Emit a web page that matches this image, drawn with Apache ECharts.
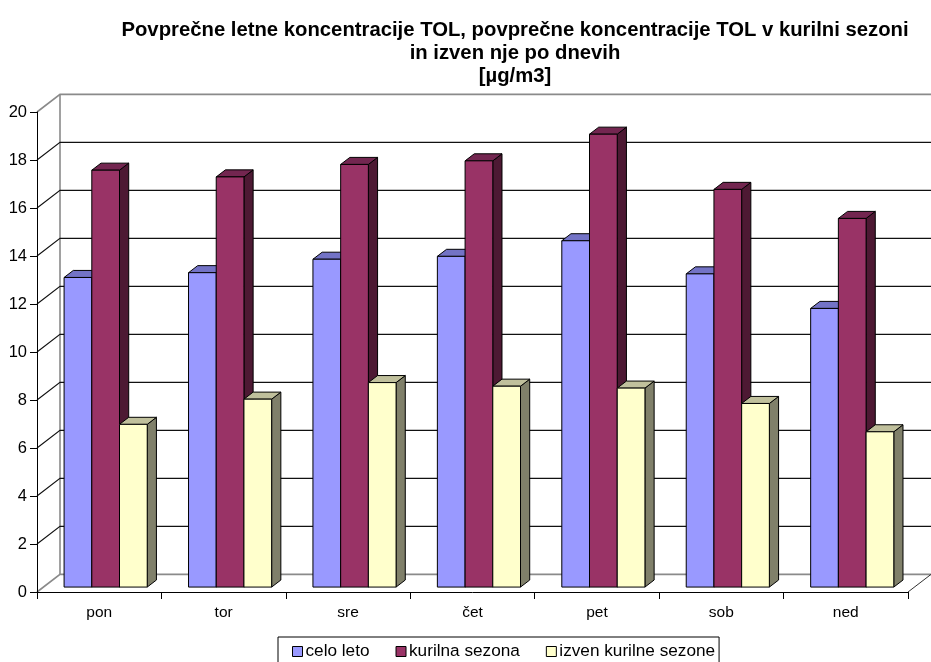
<!DOCTYPE html>
<html>
<head>
<meta charset="utf-8">
<script src="https://cdn.jsdelivr.net/npm/echarts@6/dist/echarts.min.js"></script>
<style>html,body{margin:0;padding:0;background:#fff}#c{width:931px;height:662px}</style>
</head>
<body>
<div id="c"></div>
<script>
const categories = ['pon', 'tor', 'sre', 'čet', 'pet', 'sob', 'ned'];
const celoLeto = [12.9, 13.1, 13.66, 13.78, 14.43, 13.05, 11.61];
const kurilnaSezona = [17.37, 17.09, 17.61, 17.76, 18.87, 16.57, 15.36];
const izvenKurilneSezone = [6.78, 7.83, 8.52, 8.37, 8.29, 7.65, 6.47];
const seriesNames = ['celo leto', 'kurilna sezona', 'izven kurilne sezone'];
const yTicks = [0, 2, 4, 6, 8, 10, 12, 14, 16, 18, 20];
const titleLines = ['Povprečne letne koncentracije TOL, povprečne koncentracije TOL v kurilni sezoni', 'in izven nje po dnevih', '[µg/m3]'];

const DX = 23, DY = -17.6;      // full depth vector
const FRONT = 0.28;             // bar front plane
const BDEPTH = 0.4;             // bar depth
const BAR_FRAC = 0.2227;        // bar width relative to category band

const palettes = [
  { front: '#9999FF', top: '#7373C6', side: '#5C5CA8' },
  { front: '#993366', top: '#732650', side: '#4D1933' },
  { front: '#FFFFCC', top: '#C0C09C', side: '#80806A' }
];

function barRenderer(si) {
  return function (params, api) {
    const c = api.value(0), v = api.value(1);
    const p0 = api.coord([c, 0]);
    const p1 = api.coord([c, v]);
    const bw = api.size([1, 0])[0] * BAR_FRAC;
    const ox = DX * FRONT, oy = DY * FRONT;
    const dx = DX * BDEPTH, dy = DY * BDEPTH;
    const x = p0[0] + ox + (si - 1.5) * bw;
    const yb = p0[1] + oy, yt = p1[1] + oy;
    const pal = palettes[si];
    const st = { stroke: '#000', lineWidth: 1, lineJoin: 'round' };
    return {
      type: 'group',
      children: [
        { type: 'polygon', shape: { points: [[x + bw, yt], [x + bw + dx, yt + dy], [x + bw + dx, yb + dy], [x + bw, yb]] },
          style: Object.assign({ fill: pal.side }, st) },
        { type: 'polygon', shape: { points: [[x, yt], [x + bw, yt], [x + bw + dx, yt + dy], [x + dx, yt + dy]] },
          style: Object.assign({ fill: pal.top }, st) },
        { type: 'rect', shape: { x: x, y: yt, width: bw, height: yb - yt },
          style: Object.assign({ fill: pal.front }, st) }
      ]
    };
  };
}

function wallRenderer(params, api) {
  const cs = params.coordSys;
  const v = api.value(1);
  const p = api.coord([0, v]);
  const y = p[1];
  const gx = cs.x, gr = cs.x + cs.width, gb = cs.y + cs.height, gt = cs.y;
  const children = [];
  const isEdge = (v === 0 || v === 20);
  const col = isEdge ? '#8a8a8a' : '#111';
  children.push({ type: 'polyline', shape: { points: [[gx, y], [gx + DX, y + DY], [gr + DX, y + DY]] },
    style: { stroke: col, lineWidth: isEdge ? 1.6 : 1.1, fill: null } });
  if (params.dataIndex === 0) {
    children.push({ type: 'line', shape: { x1: gx + DX, y1: gb + DY, x2: gx + DX, y2: gt + DY },
      style: { stroke: '#8a8a8a', lineWidth: 1.6 } });
    children.push({ type: 'line', shape: { x1: gr, y1: gb, x2: gr + DX, y2: gb + DY },
      style: { stroke: '#333', lineWidth: 1 } });
  }
  return { type: 'group', children: children };
}

const chart = echarts.init(document.getElementById('c'), null, { renderer: 'canvas' });
const allValues = [celoLeto, kurilnaSezona, izvenKurilneSezone];
const series = [{
  type: 'custom', name: '_walls', renderItem: wallRenderer, z: 1, silent: true,
  data: yTicks.map(v => [0, v])
}];
allValues.forEach((arr, si) => {
  series.push({
    type: 'custom', name: seriesNames[si], renderItem: barRenderer(si), z: 3,
    itemStyle: { color: palettes[si].front, borderColor: '#000', borderWidth: 1 },
    data: arr.map((v, i) => [i, v])
  });
});

chart.setOption({
  animation: false,
  backgroundColor: '#fff',
  textStyle: { fontFamily: 'Liberation Sans, Arial, sans-serif' },
  grid: { left: 37, right: 23, top: 112, bottom: 70, containLabel: false },
  xAxis: {
    type: 'category', data: categories, boundaryGap: true,
    axisLine: { lineStyle: { color: '#000', width: 1 } },
    axisTick: { show: true, length: 7, lineStyle: { color: '#000' } },
    axisLabel: { color: '#000', fontSize: 15.5, margin: 13, fontFamily: 'Liberation Sans' },
    splitLine: { show: false }, z: 5
  },
  yAxis: {
    type: 'value', min: 0, max: 20, interval: 2,
    axisLine: { show: true, lineStyle: { color: '#000', width: 1 } },
    axisTick: { show: true, length: 7, lineStyle: { color: '#000' } },
    axisLabel: { color: '#000', fontSize: 16.5, margin: 10, fontFamily: 'Liberation Sans' },
    splitLine: { show: false }, z: 5
  },
  legend: {
    data: seriesNames.map(n => ({ name: n, icon: 'rect' })),
    left: 278, top: 637, orient: 'horizontal',
    padding: [6, 4, 12, 14], itemGap: 26, itemWidth: 10, itemHeight: 10,
    borderColor: '#000', borderWidth: 1, backgroundColor: '#fff',
    itemStyle: { borderColor: '#000', borderWidth: 1 },
    textStyle: { color: '#000', fontSize: 17.2, fontFamily: 'Liberation Sans', padding: [0, 0, 0, -2] }
  },
  graphic: titleLines.map((t, i) => ({
    type: 'text', x: 515, y: 30 + i * 23,
    style: { text: t, fill: '#000', font: 'bold 20.3px "Liberation Sans", Arial, sans-serif', textAlign: 'center', textVerticalAlign: 'middle' }
  })),
  series: series
});
</script>
</body>
</html>
